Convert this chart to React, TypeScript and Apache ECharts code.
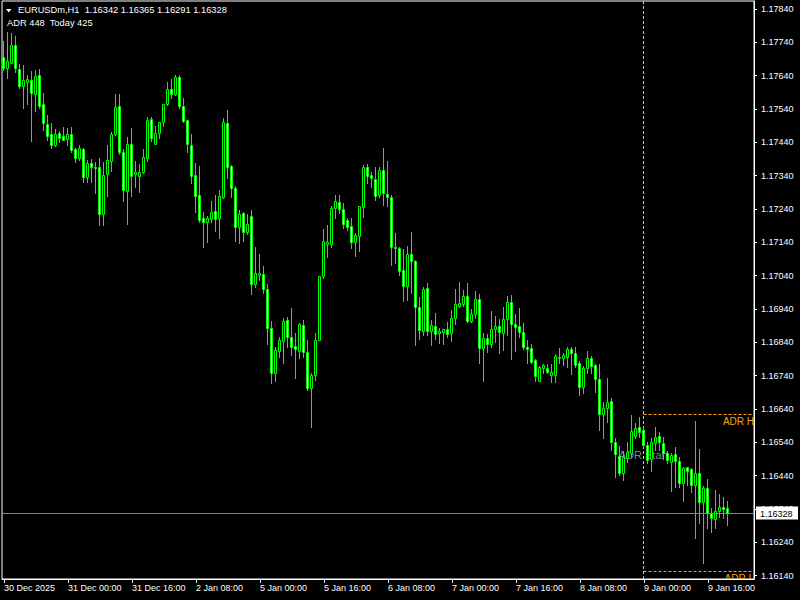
import React, { useEffect, useRef } from "react";
import * as echarts from "echarts";

const symbolName = "EURUSDm,H1";
const adrPoints = 448;
const dayStartIndex = 160; // 9 Jan 00:00
const firstLabel = "30 Dec 2025";
const labelEvery = 16;
const padBars = 6;
const yMin = 1.1613;
const yMax = 1.17864;
const adrStartLabelPrice = 1.16502;

const sessions: [string, number, number][] = [
  ["30 Dec", 8, 23],
  ["31 Dec", 0, 23],
  ["2 Jan", 0, 23],
  ["5 Jan", 0, 23],
  ["6 Jan", 0, 23],
  ["7 Jan", 0, 23],
  ["8 Jan", 0, 23],
  ["9 Jan", 0, 21],
];

const priceTicks = [
  1.1614, 1.1624, 1.1634, 1.1644, 1.1654, 1.1664, 1.1674, 1.1684, 1.1694,
  1.1704, 1.1714, 1.1724, 1.1734, 1.1744, 1.1754, 1.1764, 1.1774, 1.1784,
];

// [open, high, low, close]
const ohlc: number[][] = [
  [1.17697, 1.17744, 1.17657, 1.17662],
  [1.17664, 1.1777, 1.17632, 1.17684],
  [1.17679, 1.17767, 1.17677, 1.17732],
  [1.17732, 1.17759, 1.17652, 1.17662],
  [1.1766, 1.17674, 1.17602, 1.1761],
  [1.1761, 1.17672, 1.17544, 1.17627],
  [1.17622, 1.17642, 1.17555, 1.1763],
  [1.17627, 1.17654, 1.17445, 1.17589],
  [1.17585, 1.17657, 1.17534, 1.17639],
  [1.17642, 1.1766, 1.17542, 1.1755],
  [1.17555, 1.17587, 1.17476, 1.17499],
  [1.17495, 1.17522, 1.17447, 1.1746],
  [1.17465, 1.17497, 1.17424, 1.17432],
  [1.17432, 1.1748, 1.1743, 1.17465],
  [1.17468, 1.17474, 1.1744, 1.17454],
  [1.17459, 1.17486, 1.17446, 1.17448],
  [1.1745, 1.17482, 1.17432, 1.17465],
  [1.17465, 1.17487, 1.1741, 1.17417],
  [1.1742, 1.17424, 1.17382, 1.17392],
  [1.17394, 1.17432, 1.17387, 1.17422],
  [1.1742, 1.17424, 1.17322, 1.17337],
  [1.17337, 1.17387, 1.17322, 1.17378],
  [1.17378, 1.17389, 1.17322, 1.17367],
  [1.17367, 1.17382, 1.17289, 1.17364],
  [1.17365, 1.17392, 1.17192, 1.17224],
  [1.17224, 1.17382, 1.17192, 1.17342],
  [1.17344, 1.17432, 1.1728, 1.17387],
  [1.17385, 1.1747, 1.17355, 1.17464],
  [1.17464, 1.17584, 1.17462, 1.17545],
  [1.17549, 1.17584, 1.17406, 1.1741],
  [1.17411, 1.17419, 1.17264, 1.17297],
  [1.17295, 1.17457, 1.17195, 1.17435],
  [1.17435, 1.17484, 1.1728, 1.1734],
  [1.17345, 1.17384, 1.17307, 1.17351],
  [1.1734, 1.17375, 1.17292, 1.1735],
  [1.17352, 1.1742, 1.17347, 1.17395],
  [1.17394, 1.17517, 1.17385, 1.17507],
  [1.1751, 1.17517, 1.17444, 1.17452],
  [1.17436, 1.17489, 1.17434, 1.17469],
  [1.17469, 1.17502, 1.17452, 1.175],
  [1.17502, 1.17554, 1.1749, 1.17554],
  [1.17554, 1.17622, 1.17552, 1.176],
  [1.176, 1.1763, 1.17572, 1.17584],
  [1.17584, 1.17642, 1.17582, 1.17635],
  [1.17635, 1.17642, 1.17544, 1.1755],
  [1.17549, 1.17574, 1.17502, 1.17505],
  [1.17507, 1.17507, 1.1741, 1.17434],
  [1.17432, 1.17465, 1.17317, 1.1734],
  [1.17342, 1.17379, 1.17232, 1.1728],
  [1.17282, 1.1737, 1.172, 1.17207],
  [1.17212, 1.17232, 1.17127, 1.17202],
  [1.172, 1.17219, 1.17142, 1.17214],
  [1.1721, 1.17265, 1.172, 1.1723],
  [1.17234, 1.17282, 1.17175, 1.1721],
  [1.17212, 1.17297, 1.17152, 1.17279],
  [1.17277, 1.17514, 1.17274, 1.175],
  [1.17497, 1.17537, 1.17334, 1.17367],
  [1.17369, 1.17372, 1.17277, 1.17302],
  [1.17302, 1.1731, 1.17145, 1.17185],
  [1.17185, 1.17237, 1.17137, 1.17224],
  [1.17227, 1.17232, 1.17144, 1.1717],
  [1.1717, 1.17225, 1.17165, 1.17194],
  [1.1722, 1.17237, 1.16984, 1.17014],
  [1.17014, 1.17127, 1.17007, 1.17047],
  [1.17043, 1.17105, 1.17027, 1.17049],
  [1.17044, 1.17069, 1.16989, 1.17],
  [1.17, 1.17015, 1.16834, 1.16882],
  [1.16882, 1.16904, 1.16717, 1.16747],
  [1.16747, 1.16825, 1.16725, 1.16817],
  [1.16815, 1.16855, 1.16797, 1.16847],
  [1.16845, 1.16914, 1.16777, 1.16904],
  [1.16907, 1.16917, 1.16827, 1.16857],
  [1.16857, 1.16944, 1.16802, 1.16827],
  [1.16829, 1.16869, 1.16732, 1.16819],
  [1.16815, 1.16897, 1.16792, 1.16895],
  [1.16892, 1.16907, 1.16797, 1.16812],
  [1.1681, 1.16847, 1.16697, 1.16704],
  [1.16704, 1.16749, 1.16585, 1.16742],
  [1.16742, 1.16869, 1.16727, 1.16847],
  [1.16847, 1.17039, 1.16847, 1.17039],
  [1.1704, 1.1718, 1.17034, 1.17144],
  [1.17136, 1.17192, 1.17095, 1.17141],
  [1.17134, 1.17249, 1.17125, 1.17244],
  [1.17244, 1.17282, 1.17214, 1.17264],
  [1.1726, 1.17282, 1.17229, 1.17239],
  [1.1724, 1.17257, 1.17184, 1.17194],
  [1.17207, 1.17212, 1.17177, 1.17185],
  [1.17189, 1.17212, 1.17122, 1.1714],
  [1.1714, 1.17167, 1.171, 1.17162],
  [1.1716, 1.17249, 1.17115, 1.17249],
  [1.17245, 1.17372, 1.17215, 1.17367],
  [1.17365, 1.17375, 1.17317, 1.17339],
  [1.17342, 1.17352, 1.17307, 1.17332],
  [1.17329, 1.17365, 1.17267, 1.1728],
  [1.17282, 1.17365, 1.17277, 1.17357],
  [1.17357, 1.17422, 1.17252, 1.17287],
  [1.17285, 1.17384, 1.17249, 1.17277],
  [1.17275, 1.17282, 1.17072, 1.17125],
  [1.17125, 1.17167, 1.17077, 1.17122],
  [1.17124, 1.17127, 1.17042, 1.17055],
  [1.17057, 1.17119, 1.16965, 1.1701],
  [1.1701, 1.17129, 1.16967, 1.17105],
  [1.17104, 1.1717, 1.16987, 1.17085],
  [1.17084, 1.17087, 1.16832, 1.16947],
  [1.16945, 1.16975, 1.1685, 1.16877],
  [1.16875, 1.17005, 1.16862, 1.17],
  [1.17002, 1.17017, 1.16862, 1.16875],
  [1.16875, 1.16907, 1.16832, 1.16892],
  [1.1689, 1.16927, 1.1685, 1.16865],
  [1.16867, 1.16884, 1.16837, 1.16874],
  [1.16872, 1.16879, 1.16835, 1.16879],
  [1.16879, 1.16902, 1.16857, 1.16865],
  [1.16867, 1.16937, 1.16845, 1.16912],
  [1.16912, 1.17, 1.16894, 1.16955],
  [1.1695, 1.1702, 1.16947, 1.16957],
  [1.16955, 1.16997, 1.1695, 1.16979],
  [1.16979, 1.17017, 1.16902, 1.16905],
  [1.16905, 1.1694, 1.169, 1.16924],
  [1.16924, 1.16994, 1.16914, 1.16969],
  [1.16969, 1.16985, 1.16779, 1.16822],
  [1.16822, 1.16869, 1.16725, 1.16852],
  [1.16852, 1.16864, 1.1681, 1.16835],
  [1.16835, 1.16934, 1.16827, 1.16879],
  [1.16879, 1.16919, 1.16842, 1.16889],
  [1.16889, 1.16909, 1.16807, 1.16872],
  [1.16869, 1.16945, 1.16817, 1.16909],
  [1.16909, 1.16979, 1.16862, 1.16962],
  [1.1696, 1.16982, 1.1679, 1.16894],
  [1.16894, 1.16925, 1.16814, 1.16885],
  [1.16889, 1.16944, 1.16855, 1.16872],
  [1.16872, 1.16897, 1.1682, 1.16827],
  [1.16827, 1.16847, 1.16779, 1.16821],
  [1.16822, 1.16835, 1.16779, 1.16782],
  [1.16787, 1.16789, 1.16725, 1.1674],
  [1.16725, 1.16769, 1.16725, 1.16765],
  [1.16764, 1.16775, 1.16747, 1.16771],
  [1.16762, 1.16775, 1.16747, 1.16752],
  [1.16742, 1.16775, 1.16722, 1.16752],
  [1.16742, 1.16804, 1.16722, 1.16799],
  [1.16795, 1.16822, 1.16777, 1.16796],
  [1.16794, 1.16807, 1.16772, 1.16801],
  [1.16797, 1.16825, 1.16767, 1.16819],
  [1.16819, 1.16825, 1.16744, 1.16809],
  [1.16809, 1.16825, 1.16767, 1.16772],
  [1.16777, 1.16784, 1.16682, 1.16707],
  [1.16707, 1.16769, 1.16689, 1.16764],
  [1.16764, 1.16814, 1.16749, 1.16792],
  [1.16792, 1.16799, 1.16747, 1.1677],
  [1.16772, 1.16775, 1.16692, 1.16729],
  [1.16729, 1.16775, 1.16577, 1.16624],
  [1.16624, 1.16662, 1.16554, 1.16644],
  [1.16642, 1.16732, 1.16602, 1.1666],
  [1.16664, 1.16672, 1.16517, 1.16542],
  [1.1654, 1.16552, 1.16435, 1.16505],
  [1.165, 1.16529, 1.16442, 1.16449],
  [1.16447, 1.16515, 1.16427, 1.16497],
  [1.16492, 1.16542, 1.16482, 1.1651],
  [1.16507, 1.16622, 1.16497, 1.16574],
  [1.1656, 1.16597, 1.16552, 1.16582],
  [1.16585, 1.16615, 1.16557, 1.16572],
  [1.16577, 1.16582, 1.16527, 1.16532],
  [1.16532, 1.16542, 1.16477, 1.16487],
  [1.1649, 1.16552, 1.16454, 1.1654],
  [1.16537, 1.16585, 1.16517, 1.16557],
  [1.16558, 1.16572, 1.16517, 1.1654],
  [1.16537, 1.16557, 1.1649, 1.16507],
  [1.16507, 1.16514, 1.16477, 1.16487],
  [1.16482, 1.16507, 1.16395, 1.16502],
  [1.16504, 1.16525, 1.16407, 1.16484],
  [1.16484, 1.16497, 1.16407, 1.16419],
  [1.16419, 1.16467, 1.16364, 1.16462],
  [1.16465, 1.16467, 1.16412, 1.16455],
  [1.1646, 1.16464, 1.16392, 1.16412],
  [1.16412, 1.16603, 1.16254, 1.16449],
  [1.16447, 1.1652, 1.16297, 1.16362],
  [1.16362, 1.1641, 1.16178, 1.16402],
  [1.16402, 1.1643, 1.16282, 1.16327],
  [1.16327, 1.16344, 1.16272, 1.16312],
  [1.1631, 1.16397, 1.16284, 1.16335],
  [1.16335, 1.16385, 1.16317, 1.16345],
  [1.16345, 1.16377, 1.16312, 1.16339],
  [1.16342, 1.16365, 1.16291, 1.16328],
];

const categories: string[] = [];
sessions.forEach(([day, h0, h1]) => {
  for (let h = h0; h <= h1; h++) categories.push(`${day} ${String(h).padStart(2, "0")}:00`);
});
const axisCategories = categories.concat(Array(padBars).fill(""));

const FONT = "Liberation Sans";
const LIME = "#00ff00";

export default function App() {
  const ref = useRef<HTMLDivElement>(null);
  useEffect(() => {
    if (!ref.current) return;
    const chart = echarts.init(ref.current, null, { renderer: "svg" });
    const last = ohlc[ohlc.length - 1];
    const today = ohlc.slice(dayStartIndex);
    const dayHigh = Math.max(...today.map((d) => d[1]));
    const dayLow = Math.min(...today.map((d) => d[2]));
    const todayPts = Math.round((dayHigh - dayLow) * 1e5);
    const adrHigh = dayLow + adrPoints / 1e5;
    const adrLow = dayHigh - adrPoints / 1e5;
    const showLabel = (i: number) => i % labelEvery === 0 && i < categories.length;

    const option: any = {
      animation: false,
      backgroundColor: "#000",
      grid: { left: 2, right: 46, top: 1, bottom: 21, show: true, borderColor: "#fff", borderWidth: 1 },
      xAxis: {
        type: "category",
        data: axisCategories,
        boundaryGap: true,
        axisLine: { show: true, lineStyle: { color: "#fff" } },
        axisTick: { show: true, alignWithLabel: true, length: 4, interval: (i: number) => showLabel(i), lineStyle: { color: "#fff" } },
        axisLabel: {
          interval: (i: number) => showLabel(i),
          formatter: (v: string, i: number) => (i === 0 ? firstLabel : v),
          color: "#fff",
          fontFamily: FONT,
          fontSize: 9,
          align: "left",
          margin: 4,
        },
        splitLine: { show: false },
      },
      yAxis: {
        type: "value",
        position: "right",
        min: yMin,
        max: yMax,
        splitLine: { show: false },
        axisLine: { show: true, lineStyle: { color: "#fff" } },
        axisTick: { show: true, length: 3, customValues: priceTicks, lineStyle: { color: "#fff" } },
        axisLabel: {
          customValues: priceTicks,
          formatter: (v: number) => v.toFixed(5),
          color: "#fff",
          fontFamily: FONT,
          fontSize: 9,
          margin: 7,
        },
      },
      graphic: [
        { type: "polygon", shape: { points: [[6, 9], [11.5, 9], [8.75, 12.5]] }, style: { fill: "#fff" } },
        {
          type: "text",
          left: 18,
          top: 5,
          style: {
            text: `${symbolName}  ${last.map((v) => v.toFixed(5)).join(" ")}`,
            fill: "#fff",
            fontFamily: FONT,
            fontSize: 9.3,
          },
        },
        {
          type: "text",
          left: 7,
          top: 18,
          style: { text: `ADR ${adrPoints}  Today ${todayPts}`, fill: "#fff", fontFamily: FONT, fontSize: 9.3 },
        },
      ],
      series: [
        {
          type: "custom",
          silent: true,
          clip: true,
          z: 1,
          data: [[dayStartIndex, adrHigh, adrLow, adrStartLabelPrice]],
          encode: { x: 0, y: [1, 2] },
          renderItem: (params: any, api: any) => {
            const cs = params.coordSys;
            const i = api.value(0);
            const x = Math.round(api.coord([i, api.value(1)])[0]) - 1 + 0.5;
            const yH = Math.round(api.coord([i, api.value(1)])[1]) + 0.5;
            const yL = Math.round(api.coord([i, api.value(2)])[1]) + 0.5;
            const yS = api.coord([i, api.value(3)])[1];
            const right = cs.x + cs.width;
            return {
              type: "group",
              children: [
                { type: "text", x: x, y: yS, style: { text: "ADR Start", fill: "#6f87a3", fontFamily: FONT, fontSize: 11, align: "center", verticalAlign: "middle" } },
                { type: "line", shape: { x1: x, y1: cs.y, x2: x, y2: cs.y + cs.height }, style: { stroke: "#c8c8c8", lineWidth: 1, lineDash: [3, 2] } },
                { type: "line", shape: { x1: x, y1: yH, x2: right, y2: yH }, style: { stroke: "#ffa500", lineWidth: 1, lineDash: [3, 2] } },
                { type: "line", shape: { x1: x, y1: yL, x2: right, y2: yL }, style: { stroke: "#ffa500", lineWidth: 1, lineDash: [3, 2] } },
                { type: "text", x: right, y: yH + 2, style: { text: "ADR H", fill: "#ffa500", fontFamily: FONT, fontSize: 10, align: "right", verticalAlign: "top" } },
                { type: "text", x: right, y: yL + 2, style: { text: "ADR L", fill: "#ffa500", fontFamily: FONT, fontSize: 10, align: "right", verticalAlign: "top" } },
              ],
            };
          },
        },
        {
          type: "custom",
          silent: true,
          z: 2,
          data: ohlc.map((d, i) => [i, d[0], d[1], d[2], d[3]]),
          encode: { x: 0, y: [1, 2, 3, 4] },
          renderItem: (params: any, api: any) => {
            const i = api.value(0);
            const o = api.value(1);
            const h = api.value(2);
            const l = api.value(3);
            const c = api.value(4);
            const col = Math.round(api.coord([i, o])[0]) - 1;
            const yo = Math.round(api.coord([i, o])[1]);
            const yc = Math.round(api.coord([i, c])[1]);
            const yh = Math.round(api.coord([i, h])[1]);
            const yl = Math.round(api.coord([i, l])[1]);
            const top = Math.min(yo, yc);
            const bot = Math.max(yo, yc);
            const fill = c < o ? "#ffffff" : "#000000";
            return {
              type: "group",
              children: [
                { type: "line", shape: { x1: col + 0.5, y1: yh, x2: col + 0.5, y2: yl + 1 }, style: { stroke: LIME, lineWidth: 1 } },
                {
                  type: "rect",
                  shape: { x: col - 0.5, y: top + 0.5, width: 2, height: Math.max(bot - top, 1) },
                  style: { stroke: LIME, fill, lineWidth: 1 },
                },
              ],
            };
          },
        },
        {
          type: "custom",
          silent: true,
          clip: false,
          z: 5,
          data: [[ohlc.length - 1, last[3]]],
          encode: { x: 0, y: 1 },
          renderItem: (params: any, api: any) => {
            const cs = params.coordSys;
            const y = Math.round(api.coord([api.value(0), api.value(1)])[1]) + 0.5;
            const right = cs.x + cs.width;
            return {
              type: "group",
              children: [
                { type: "line", shape: { x1: cs.x, y1: y, x2: right, y2: y }, style: { stroke: "#778899", lineWidth: 1 } },
                { type: "rect", shape: { x: right + 2, y: y - 7, width: 42, height: 13 }, style: { fill: "#ffffff" } },
                {
                  type: "text",
                  x: right + 6,
                  y: y,
                  style: { text: api.value(1).toFixed(5), fill: "#000", fontFamily: FONT, fontSize: 9, align: "left", verticalAlign: "middle" },
                },
              ],
            };
          },
        },
      ],
    };
    chart.setOption(option);
    return () => chart.dispose();
  }, []);
  return <div ref={ref} style={{ position: "fixed", left: 0, top: 0, width: 800, height: 600 }} />;
}
